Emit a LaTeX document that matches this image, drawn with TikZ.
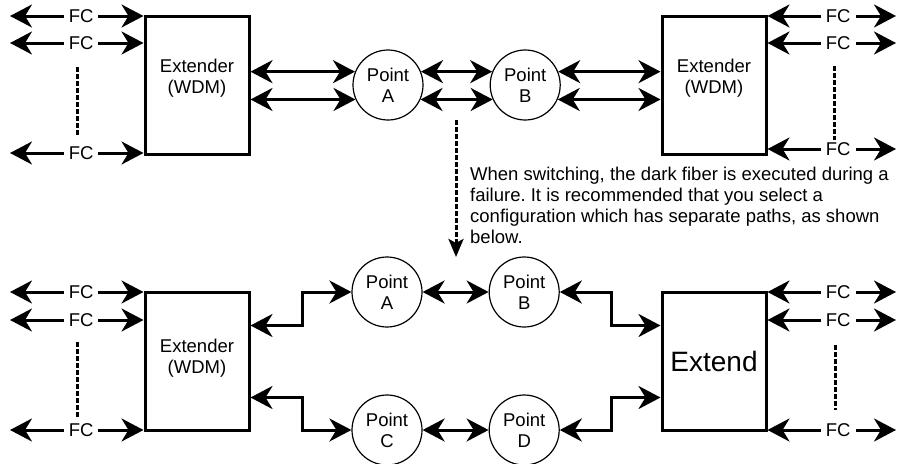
\documentclass[tikz,border=0pt]{standalone}
\usepackage{fontspec}
\setmainfont{Liberation Sans}
\usetikzlibrary{arrows.meta,positioning}
\frenchspacing

\begin{document}
\begin{tikzpicture}[
    x=1pt, y=-1pt,
    every node/.style={font=\fontsize{18.5}{21}\selectfont},
    box/.style={draw, line width=3pt, minimum width=104pt, minimum height=138pt, inner sep=0pt},
    boxtxt/.style={align=center, inner sep=0pt},
    pt/.style={draw, circle, line width=1.2pt, minimum size=70pt, inner sep=0pt, align=center},
    arr/.style={{Stealth[length=22pt,width=23pt,inset=7pt]}-{Stealth[length=22pt,width=23pt,inset=7pt]}, line width=3pt},
    fc/.style={fill=white, inner xsep=5pt, inner ysep=1pt},
    vdots/.style={line width=3pt, dash pattern=on 5pt off 2pt},
    note/.style={align=left, inner sep=0pt, anchor=north west},
    node distance=66pt
]
\useasboundingbox (0,0) rectangle (901,463);

% upper configuration
\node[box] (extL) at (197,85) {};
\node[boxtxt] (extLtxt) at ([yshift=7pt]extL.center) {Extender\\(WDM)};
\node[box] (extR) at (714,85) {};
\node[boxtxt] (extRtxt) at ([yshift=7pt]extR.center) {Extender\\(WDM)};
\node[pt] (ptA) at (388,85) {Point\\A};
\node[pt, right=of ptA] (ptB) {Point\\B};

\draw[arr] (extL.east |- ptA.158) -- (ptA.158);
\draw[arr] (extL.east |- ptA.204) -- (ptA.204);
\draw[arr] (ptA.22) -- (ptB.158);
\draw[arr] (ptA.336) -- (ptB.204);
\draw[arr] (ptB.22) -- (ptB.22 -| extR.west);
\draw[arr] (ptB.336) -- (ptB.336 -| extR.west);

\foreach \y [count=\i] in {16,43,153} {
  \coordinate (fcL\i) at (10,\y);
  \draw[arr] (fcL\i) -- (fcL\i -| extL.west) node[fc, pos=.533] (fcLn\i) {FC};
}
\foreach \y [count=\i] in {16,43,149} {
  \coordinate (fcR\i) at (896,\y);
  \draw[arr] (fcR\i -| extR.east) -- (fcR\i) node[fc, pos=.55] (fcRn\i) {FC};
}
\draw[vdots] (77,67) -- (77,135);
\draw[vdots] (834,66) -- (834,140);

% switching note
\coordinate (swTop) at (456,120);
\coordinate (swBot) at (456,257);
\draw[vdots, -{Stealth[length=18pt,width=15pt,inset=4pt]}] (swTop) -- (swBot);
\node[note] (swNote) at (470,167) {When switching, the dark fiber is executed during a\\failure. It is recommended that you select a\\configuration which has separate paths, as shown\\below.};

% lower configuration
\node[box] (extLb) at (197,361) {};
\node[boxtxt] (extLbtxt) at ([yshift=3pt]extLb.center) {Extender\\(WDM)};
\node[box, font=\fontsize{28}{32}\selectfont] (extRb) at (714,361) {Extend};
\node[pt] (ptAb) at (387,292) {Point\\A};
\node[pt, right=of ptAb] (ptBb) {Point\\B};
\node[pt] (ptCb) at (387,430) {Point\\C};
\node[pt, right=of ptCb] (ptDb) {Point\\D};

\draw[arr] ([yshift=-35pt]extLb.north east) -- ++(52,0) |- (ptAb.west);
\draw[arr] ([yshift=34pt]extLb.south east) -- ++(52,0) |- (ptCb.west);
\draw[arr] (ptAb.east) -- (ptBb.west);
\draw[arr] (ptCb.east) -- (ptDb.west);
\draw[arr] (ptBb.east) -- ++(52,0) |- ([yshift=-35pt]extRb.north west);
\draw[arr] (ptDb.east) -- ++(52,0) |- ([yshift=34pt]extRb.south west);

\foreach \y [count=\i] in {292,320,430} {
  \coordinate (fcLb\i) at (10,\y);
  \draw[arr] (fcLb\i) -- (fcLb\i -| extLb.west) node[fc, pos=.533] (fcLbn\i) {FC};
  \coordinate (fcRb\i) at (896,\y);
  \draw[arr] (fcRb\i -| extRb.east) -- (fcRb\i) node[fc, pos=.55] (fcRbn\i) {FC};
}
\draw[vdots] (77,342) -- (77,417);
\draw[vdots] (835,345) -- (835,410);
\end{tikzpicture}
\end{document}
